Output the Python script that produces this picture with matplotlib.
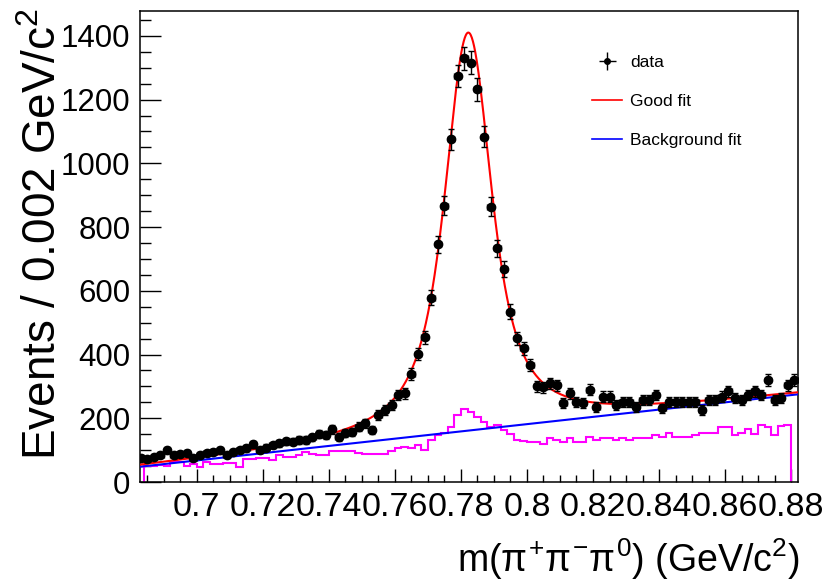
import numpy as np
import matplotlib
matplotlib.use("Agg")
import matplotlib.pyplot as plt
from matplotlib.ticker import MultipleLocator, FuncFormatter

# ---------------- data ----------------
BIN_W = 0.002
DATA_X0 = 0.682          # lower edge of first data bin
data_counts = [
    75, 72, 80, 85, 100, 86, 88, 90, 76, 85, 90, 95, 100, 84, 95, 100,
    106, 119, 100, 108, 116, 122, 128, 127, 132, 132, 140, 150, 148, 165, 142, 153,
    158, 174, 184, 163, 210, 226, 242, 273, 278, 338, 402, 454, 578, 746,
    867, 1076, 1274, 1330, 1316, 1232, 1084, 864, 733, 668, 535, 451, 420, 367, 301,
    297, 310, 304, 247, 278, 252, 247, 289, 236, 268, 268, 242, 252, 252, 236,
    257, 257, 273, 231, 252, 252, 252, 252, 252, 226, 257, 257, 268, 284, 263,
    257, 273, 284, 273, 320, 257, 263, 304, 320,
]

MC_X0 = 0.684            # lower edge of first magenta bin
mc_counts = [
    50, 50, 52, 50, 62, 64, 50, 58, 48, 64, 55, 58, 60, 60, 48, 72,
    72, 74, 76, 70, 84, 80, 80, 86, 94, 88, 86, 86, 98, 96, 98,
    98, 92, 88, 88, 88, 88, 98, 106, 111, 106, 116, 100, 132, 148, 153,
    174, 210, 228, 221, 205, 189, 174, 179, 163, 151, 132, 130, 127, 127, 118,
    137, 132, 127, 137, 127, 127, 142, 132, 137, 137, 132, 137, 132, 137, 137,
    137, 148, 142, 155, 142, 142, 142, 148, 153, 153, 153, 172, 172, 148, 153,
    165, 151, 179, 172, 148, 176, 179,
]

# fit parameters
XMIN, XMAX = 0.6828, 0.8820
YMIN, YMAX = 0.0, 1478.0
M0 = 0.7822          # peak position
GAMMA_L = 0.0133     # Lorentzian FWHM
SIGMA = 0.0033       # Gaussian resolution
PEAK = 1249.0        # signal height above background at the peak
BKG_LO, BKG_HI = 48.0, 275.0   # linear background at XMIN / XMAX

x_ticks = [0.70, 0.72, 0.74, 0.76, 0.78, 0.80, 0.82, 0.84, 0.86, 0.88]
y_ticks = [0, 200, 400, 600, 800, 1000, 1200, 1400]

legend_labels = ["data", "Good fit", "Background fit"]

# ---------------- style ----------------
plt.rcParams["font.family"] = ["Liberation Sans", "DejaVu Sans"]
plt.rcParams["mathtext.fontset"] = "custom"
plt.rcParams["mathtext.rm"] = "Liberation Sans"
plt.rcParams["mathtext.it"] = "Liberation Sans"
plt.rcParams["mathtext.bf"] = "Liberation Sans:bold"

fig = plt.figure(figsize=(8.25, 5.84), dpi=100)
W, H = 825.0, 584.0
AX_L, AX_B, AX_W, AX_H = 140.0, 482.0, 657.7, 471.0
ax = fig.add_axes([AX_L / W, 1 - AX_B / H, AX_W / W, AX_H / H])

# ---------------- curves ----------------
xs = np.linspace(XMIN, XMAX, 1200)
bkg = BKG_LO + (BKG_HI - BKG_LO) * (xs - XMIN) / (XMAX - XMIN)
t = np.linspace(-6 * SIGMA, 6 * SIGMA, 801)
gw = np.exp(-0.5 * (t / SIGMA) ** 2)
hw = GAMMA_L / 2.0
lor = hw ** 2 / ((xs[:, None] - M0 - t[None, :]) ** 2 + hw ** 2)
voigt = (lor * gw[None, :]).sum(axis=1)
voigt = voigt / voigt.max()
total = bkg + PEAK * voigt

# magenta histogram
mc = np.array(mc_counts, dtype=float)
mc_edges = MC_X0 + BIN_W * np.arange(len(mc) + 1)
ax.stairs(mc, mc_edges, baseline=0, color="#ff00ff", lw=1.5, zorder=2)

ax.plot(xs, bkg, color="#0000ff", lw=1.5, zorder=3)
ax.plot(xs, total, color="#ff0000", lw=1.5, zorder=3)

# data points
y = np.array(data_counts, dtype=float)
xc = DATA_X0 + BIN_W * (np.arange(len(y)) + 0.5)
ax.errorbar(xc, y, yerr=np.sqrt(y), xerr=BIN_W / 2, fmt="o", color="black",
            ms=6, elinewidth=1.0, capsize=2.0, capthick=1.0, zorder=5)

# ---------------- axes ----------------
ax.set_xlim(XMIN, XMAX)
ax.set_ylim(YMIN, YMAX)
ax.xaxis.set_minor_locator(MultipleLocator(0.005))
ax.yaxis.set_minor_locator(MultipleLocator(50))
ax.set_xticks(x_ticks)
ax.set_yticks(y_ticks)
ax.xaxis.set_major_formatter(FuncFormatter(lambda v, p: "%g" % round(v, 3)))
ax.tick_params(axis="both", which="both", direction="in", top=False, right=False,
               width=1.0)
ax.tick_params(axis="y", which="major", length=15, pad=7, labelsize=22.5)
ax.tick_params(axis="y", which="minor", length=8)
ax.tick_params(axis="x", which="major", length=9.5, pad=7, labelsize=24.5)
ax.tick_params(axis="x", which="minor", length=5)
for s in ax.spines.values():
    s.set_linewidth(1.1)

ax.set_xlabel(r"m($\pi^{+}\pi^{-}\pi^{0}$) (GeV/c$^{2}$)", fontsize=27, loc="right")
ax.xaxis.set_label_coords(1.0 + 2 / AX_W, (AX_B - 536) / AX_H)
ax.set_ylabel(r"Events / 0.002 GeV/c$^{2}$", fontsize=33, loc="top")
ax.yaxis.set_label_coords((66 - AX_L) / AX_W, 1.0 + 3 / AX_H)

# ---------------- legend ----------------
h_data = ax.errorbar([np.nan], [np.nan], xerr=[1], yerr=[1], fmt="o", color="black",
                     ms=4, elinewidth=1.0, capsize=0)
h_fit, = ax.plot([], [], color="#ff0000", lw=1.2)
h_bkg, = ax.plot([], [], color="#0000ff", lw=1.2)
leg = ax.legend([h_data, h_fit, h_bkg], legend_labels, loc="upper left",
                bbox_to_anchor=((592 - AX_L) / AX_W, (AX_B - 55) / AX_H),
                frameon=False, fontsize=12.5, handlelength=1.75, handletextpad=0.45,
                labelspacing=1.38, borderpad=0, borderaxespad=0)

fig.savefig("out.png", dpi=100)
